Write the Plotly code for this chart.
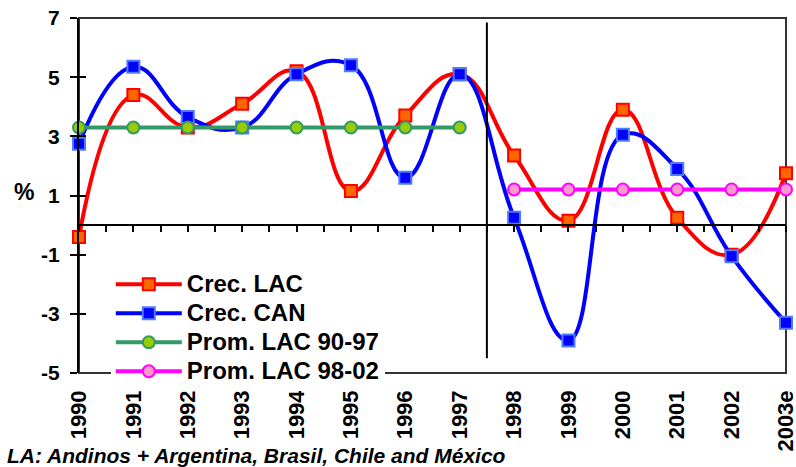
import plotly.graph_objects as go

years = ["1990", "1991", "1992", "1993", "1994", "1995", "1996", "1997",
         "1998", "1999", "2000", "2001", "2002", "2003e"]
crec_lac = [-0.4, 4.4, 3.3, 4.1, 5.2, 1.15, 3.7, 5.1, 2.35, 0.15, 3.9, 0.25, -1.0, 1.75]
crec_can = [2.75, 5.35, 3.65, 3.3, 5.1, 5.4, 1.6, 5.1, 0.25, -3.9, 3.05, 1.9, -1.05, -3.3]
prom_9097 = [3.3] * 8 + [None] * 6
prom_9802 = [None] * 8 + [1.2] * 6
y_ticks = [-5, -3, -1, 1, 3, 5, 7]
y_ticktext = ["-5", "-3", "-1", "1", "3", "5", "7"]
series_names = ["Crec. LAC", "Crec. CAN", "Prom. LAC 90-97", "Prom. LAC 98-02"]
footnote = "LA: Andinos + Argentina, Brasil, Chile and México"

xi = list(range(len(years)))
FONT = "Liberation Sans, Arial, sans-serif"
SMOOTH = 1.25


def legend_name(s):
    return '<span style="font-size:24px">' + s + '</span>'


fig = go.Figure()
fig.add_trace(go.Scatter(
    x=xi, y=crec_lac, name=legend_name(series_names[0]), mode="lines+markers",
    line=dict(color="#FF0000", width=4, shape="spline", smoothing=SMOOTH),
    marker=dict(symbol="square", size=12, color="#FF6600", line=dict(color="#FF0000", width=2)),
    cliponaxis=False))
fig.add_trace(go.Scatter(
    x=xi, y=crec_can, name=legend_name(series_names[1]), mode="lines+markers",
    line=dict(color="#0000FF", width=4, shape="spline", smoothing=SMOOTH),
    marker=dict(symbol="square", size=12, color="#0000FF", line=dict(color="#4D7CFF", width=2)),
    cliponaxis=False))
fig.add_trace(go.Scatter(
    x=xi, y=prom_9097, name=legend_name(series_names[2]), mode="lines+markers",
    line=dict(color="#339966", width=4),
    marker=dict(symbol="circle", size=12, color="#99CC00", line=dict(color="#339966", width=2)),
    cliponaxis=False))
fig.add_trace(go.Scatter(
    x=xi, y=prom_9802, name=legend_name(series_names[3]), mode="lines+markers",
    line=dict(color="#FF00FF", width=4),
    marker=dict(symbol="circle", size=12, color="#FF99CC", line=dict(color="#FF00FF", width=2)),
    cliponaxis=False))
# dummy trace to activate the helper axes (zero line / crossing ticks)
fig.add_trace(go.Scatter(x=[None], y=[None], xaxis="x2", yaxis="y2",
                         showlegend=False, hoverinfo="skip"))

xr = [0, len(years) - 1]
yr = [y_ticks[0], y_ticks[-1]]
zero_pos = (0 - yr[0]) / (yr[1] - yr[0])

fig.update_layout(
    width=796, height=467,
    margin=dict(l=79, r=10, t=18, b=94, autoexpand=False),
    paper_bgcolor="white", plot_bgcolor="white",
    font=dict(family=FONT, color="black"),
    showlegend=True,
    legend=dict(x=0.045, y=0.305, xanchor="left", yanchor="top",
                bgcolor="white", borderwidth=0,
                font=dict(family=FONT, size=20, weight="bold", color="black"),
                itemwidth=66, tracegroupgap=0),
    xaxis=dict(range=xr, tickmode="array", tickvals=xi, ticktext=years,
               tickangle=-90, ticks="", showgrid=False, zeroline=False,
               showline=False, ticklabelstandoff=12, automargin=False,
               ticklabeloverflow="allow",
               tickfont=dict(family=FONT, size=22, weight="bold", color="black")),
    xaxis2=dict(range=xr, overlaying="x", anchor="free", position=zero_pos,
                tickmode="array", tickvals=[i / 2 for i in range(2 * xr[1] + 1)],
                showticklabels=False, ticks="outside", ticklen=6, tickwidth=2,
                tickcolor="black", showline=True, linecolor="black", linewidth=2,
                showgrid=False, zeroline=False, automargin=False),
    yaxis=dict(range=yr, tickmode="array", tickvals=y_ticks, ticktext=y_ticktext,
               ticks="outside", ticklen=7, tickwidth=2, tickcolor="black",
               showline=True, linecolor="black", linewidth=2, showgrid=False,
               zeroline=False, ticklabelstandoff=6, automargin=False,
               tickfont=dict(family=FONT, size=21, weight="bold", color="black")),
    yaxis2=dict(range=yr, overlaying="y", anchor="x", side="left",
                tickmode="array", tickvals=y_ticks, ticks="inside", ticklen=7,
                tickwidth=2, tickcolor="black", showticklabels=False,
                showline=False, showgrid=False, zeroline=False, automargin=False),
    shapes=[
        dict(type="rect", xref="paper", yref="paper", x0=0, x1=1, y0=0, y1=1,
             line=dict(color="#333333", width=2), layer="below"),
        dict(type="line", xref="x", yref="y", x0=7.5, x1=7.5, y0=6.85, y1=-4.5,
             line=dict(color="black", width=2)),
    ],
    annotations=[
        dict(text="%", xref="paper", yref="paper", x=-0.0948, y=0.51,
             xanchor="left", yanchor="middle",
             showarrow=False, font=dict(family=FONT, size=23, weight="bold")),
        dict(text=footnote, xref="paper", yref="paper", x=-0.1047, y=-0.231,
             xanchor="left", yanchor="middle", showarrow=False,
             font=dict(family=FONT, size=21, weight="bold", style="italic")),
    ],
)

fig.write_html("out.html", config={"displayModeBar": False},
               post_script="document.body.style.margin='0';document.body.style.overflow='hidden';")
